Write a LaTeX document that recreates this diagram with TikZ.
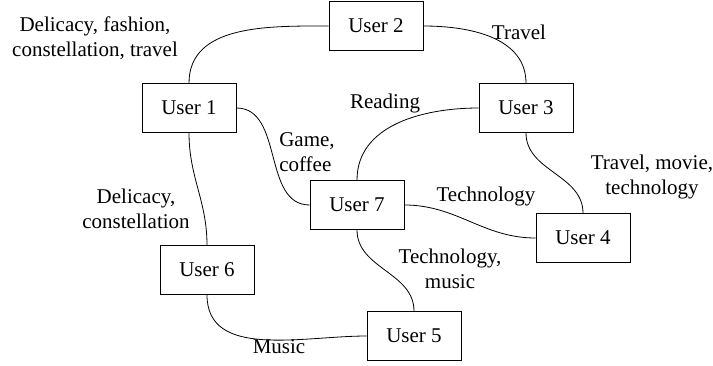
\documentclass[tikz,border=0pt]{standalone}
\usepackage{fontspec}
\setmainfont{Liberation Serif}
\usetikzlibrary{positioning}

\tikzset{
  user/.style={draw,line width=0.8pt,minimum width=94pt,minimum height=49pt,inner sep=0pt},
  tag/.style={align=center,inner sep=0pt},
  link/.style={line width=0.8pt}
}

\begin{document}
\begin{tikzpicture}[x=1pt,y=-1pt,font=\fontsize{21}{24.5}\selectfont]
  \useasboundingbox (0,0) rectangle (713,365);
  % users
  \node[user] (u1) at (189,108) {User 1};
  \node[user] (u2) at (376,26)  {User 2};
  \node[user] (u3) at (526,108) {User 3};
  \node[user] (u4) at (583,238) {User 4};
  \node[user] (u5) at (414,336) {User 5};
  \node[user] (u6) at (207,270) {User 6};
  \node[user] (u7) at (357,205) {User 7};
  % shared interests
  \node[tag] (t12) at (95,38)   {Delicacy, fashion,\\constellation, travel};
  \node[tag] (t23) at (519,32)  {Travel};
  \node[tag] (t37) at (385,103) {Reading};
  \node[tag,align=left] (t17) at (307,152) {Game,\\coffee};
  \node[tag] (t34) at (652,177) {Travel, movie,\\technology};
  \node[tag] (t74) at (486,196) {Technology};
  \node[tag] (t16) at (136,209) {Delicacy,\\constellation};
  \node[tag] (t75) at (450,269) {Technology,\\music};
  \node[tag] (t65) at (279,347) {Music};
  \path[link]
    (u1.north) edge[out=90,in=180]  (u2.west)
    (u2.east)  edge[out=0,in=90]    (u3.north)
    (u1.east)  edge[out=0,in=180]   (u7.west)
    (u3.west)  edge[out=180,in=90]  (u7.north)
    (u3.south) edge[out=-90,in=90]  (u4.north)
    (u7.east)  edge[out=0,in=180]   (u4.west)
    (u1.south) edge[out=-90,in=90]  (u6.north)
    (u7.south) edge[out=-90,in=90]  (u5.north)
    (u6.south) edge[out=-90,in=180] (u5.west);
\end{tikzpicture}
\end{document}
